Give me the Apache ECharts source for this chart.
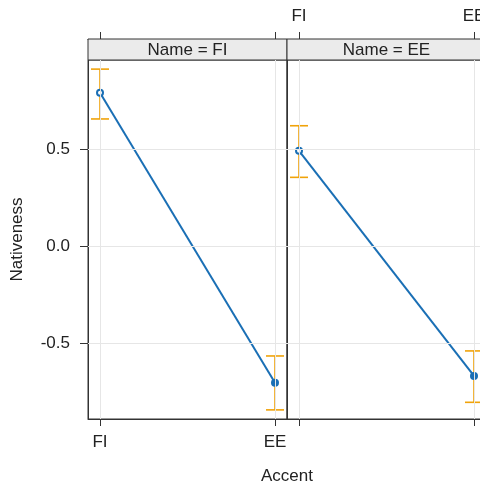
<!DOCTYPE html>
<html style="height: 100%">
   <head>
       <meta charset="utf-8">
   </head>
   <body style="height: 100%; margin: 0">
       <div id="container" style="width: 480px; height: 486px"></div>
       <script type="text/javascript" src="https://cdn.jsdelivr.net/npm/echarts/dist/echarts.min.js"></script>
       <script type="text/javascript">
var accents = ['FI', 'EE'];
var panels = ['FI', 'EE'];
// Name = FI
var fitFI = [0.790, -0.705];
var lowerFI = [0.655, -0.845];
var upperFI = [0.912, -0.567];
// Name = EE
var fitEE = [0.491, -0.670];
var lowerEE = [0.354, -0.806];
var upperEE = [0.620, -0.541];
var yTicks = [-0.5, 0, 0.5];

var fits = [fitFI, fitEE];
var lowers = [lowerFI, lowerEE];
var uppers = [upperFI, upperEE];

var dom = document.getElementById("container");
var myChart = echarts.init(dom);
var font = "'Liberation Sans', Arial, sans-serif";
var txt = '#222';
var gridCol = '#e6e6e6';
var lineCol = '#1a6fb5';
var errCol = '#f0a30a';
var xMin = -0.0686, xMax = 1.0686;
var yMin = -0.892, yMax = 0.959;

var grids = [], xAxes = [], yAxes = [], series = [], graphics = [];

for (var p = 0; p < panels.length; p++) {
    var left = 88 + p * 199;
    grids.push({left: left, top: 60, width: 199, height: 359, show: true, outerBoundsMode: 'none',
        containLabel: false, borderColor: '#333', borderWidth: 1, backgroundColor: 'transparent'});
    // bottom axis
    xAxes.push({
        gridIndex: p, type: 'value', position: 'bottom', min: xMin, max: xMax,
        axisLine: {show: true, onZero: false, lineStyle: {color: '#333'}},
        axisTick: {show: true, length: 7, customValues: [0, 1], lineStyle: {color: '#333'}},
        axisLabel: {show: p === 0, customValues: [0, 1], margin: 15, fontSize: 17, fontFamily: font, color: txt,
            formatter: function (v) { return accents[Math.round(v)]; }},
        splitLine: {show: false}
    });
    // top axis above the strip
    xAxes.push({
        gridIndex: p, type: 'value', position: 'top', offset: 21, min: xMin, max: xMax,
        axisLine: {show: true, onZero: false, lineStyle: {color: '#333'}},
        axisTick: {show: true, length: 7, customValues: [0, 1], lineStyle: {color: '#333'}},
        axisLabel: {show: p === 1, customValues: [0, 1], margin: 14, fontSize: 17, fontFamily: font, color: txt,
            hideOverlap: false,
            formatter: function (v) { return accents[Math.round(v)]; }},
        splitLine: {show: false}
    });
    yAxes.push({
        gridIndex: p, type: 'value', min: yMin, max: yMax,
        name: p === 0 ? 'Nativeness' : '', nameLocation: 'middle', nameGap: 62,
        nameTextStyle: {fontSize: 17, fontFamily: font, color: txt},
        axisLine: {show: true, onZero: false, lineStyle: {color: '#333'}},
        axisTick: {show: p === 0, length: 8, customValues: yTicks, lineStyle: {color: '#333'}},
        axisLabel: {show: p === 0, customValues: yTicks, margin: 18, fontSize: 17, fontFamily: font, color: txt,
            formatter: function (v) { return v.toFixed(1); }},
        splitLine: {show: false}
    });

    var xi = p * 2;
    // reference grid lines
    series.push({
        type: 'line', xAxisIndex: xi, yAxisIndex: p, data: [], silent: true, z: 1,
        markLine: {
            silent: true, symbol: 'none', label: {show: false},
            lineStyle: {color: gridCol, width: 1, type: 'solid'},
            data: [{xAxis: 0}, {xAxis: 1}].concat(yTicks.map(function (v) { return {yAxis: v}; }))
        }
    });
    // error bars
    var errData = [];
    for (var i = 0; i < accents.length; i++) {
        errData.push([i, lowers[p][i], uppers[p][i]]);
    }
    series.push({
        type: 'custom', xAxisIndex: xi, yAxisIndex: p, z: 2, silent: true,
        data: errData,
        renderItem: function (params, api) {
            var lo = api.coord([api.value(0), api.value(1)]);
            var hi = api.coord([api.value(0), api.value(2)]);
            var st = {stroke: errCol, lineWidth: 1.6};
            return {type: 'group', children: [
                {type: 'line', shape: {x1: lo[0], y1: lo[1], x2: hi[0], y2: hi[1]}, style: st},
                {type: 'line', shape: {x1: lo[0] - 9, y1: lo[1], x2: lo[0] + 9, y2: lo[1]}, style: st},
                {type: 'line', shape: {x1: hi[0] - 9, y1: hi[1], x2: hi[0] + 9, y2: hi[1]}, style: st}
            ]};
        }
    });
    // fitted effect
    var pts = [];
    for (var j = 0; j < accents.length; j++) {
        pts.push({value: [j, fits[p][j]], symbol: j === 0 ? 'emptyCircle' : 'circle', symbolSize: j === 0 ? 6 : 8});
    }
    series.push({
        type: 'line', xAxisIndex: xi, yAxisIndex: p, z: 3, data: pts,
        lineStyle: {color: lineCol, width: 2},
        itemStyle: {color: lineCol, borderWidth: 2},
        showAllSymbol: true
    });

    // strip
    graphics.push({type: 'rect', shape: {x: left, y: 39, width: 199, height: 21},
        style: {fill: '#ebebeb', stroke: '#333', lineWidth: 1}, z: 5});
    graphics.push({type: 'text', x: left + 99.5, y: 50,
        style: {text: 'Name = ' + panels[p], fontSize: 17, fontFamily: font, fill: txt,
            textAlign: 'center', textVerticalAlign: 'middle'}, z: 6});
}

graphics.push({type: 'text', x: 287, y: 476,
    style: {text: 'Accent', fontSize: 17, fontFamily: font, fill: txt,
        textAlign: 'center', textVerticalAlign: 'middle'}});

option = {
    animation: false,
    backgroundColor: '#fff',
    grid: grids,
    xAxis: xAxes,
    yAxis: yAxes,
    series: series,
    graphic: graphics
};
myChart.setOption(option, true);
       </script>
   </body>
</html>
